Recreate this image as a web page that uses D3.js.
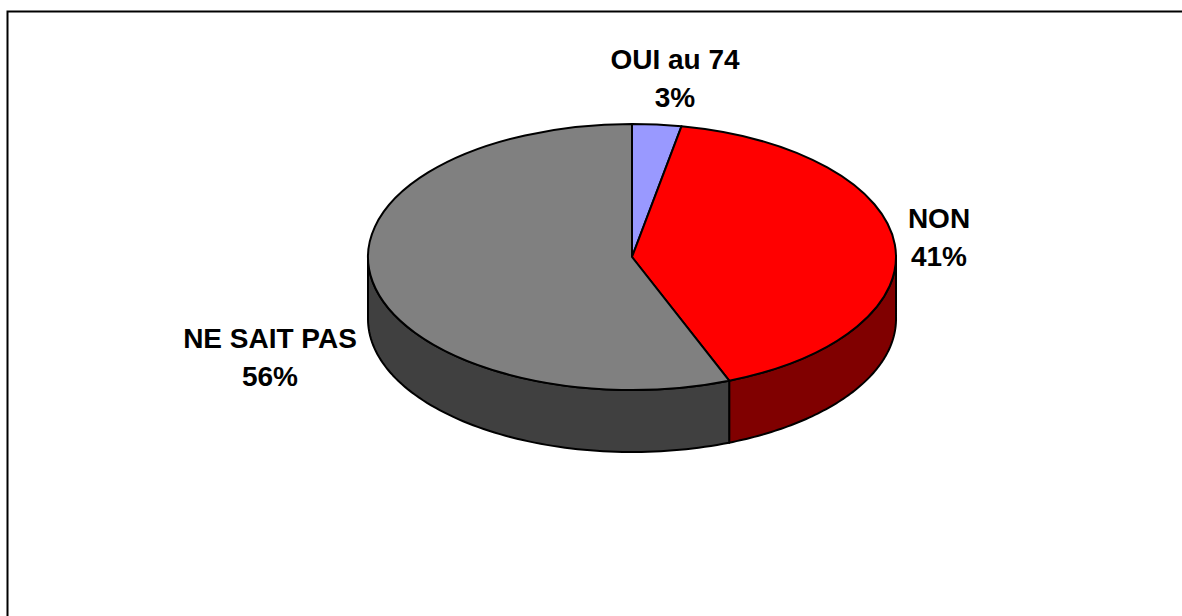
<!DOCTYPE html>
<html>
<head>
<meta charset="utf-8">
<script src="https://cdn.jsdelivr.net/npm/d3@7"></script>
<style>
  html, body { margin: 0; padding: 0; background: #fff; overflow: hidden; }
  svg { display: block; }
  text { font-family: "Liberation Sans", Arial, sans-serif; font-weight: bold; }
</style>
</head>
<body>
<svg id="chart" width="1182" height="616"></svg>
<script>
// ---- data ----
const categories = ["OUI au 74", "NON", "NE SAIT PAS"];
const values = [3, 41, 56];
const percentLabels = ["3%", "41%", "56%"];
const topColors = ["#9999FF", "#FF0000", "#808080"];
const sideColors = ["#4D4D80", "#800000", "#404040"];

// ---- layout ----
const W = 1182, H = 616;
const cx = 632, cy = 257, rx = 264, ry = 133, depth = 62;
const labelAnchors = [
  { x: 675, y: 69 },
  { x: 939, y: 228 },
  { x: 270, y: 348 }
];
const lineGap = 38;

const svg = d3.select("#chart");

// frame: only top and left edges are inside the window
svg.append("path")
  .attr("d", `M7.5,${H} V11.5 H${W}`)
  .attr("fill", "none").attr("stroke", "#000").attr("stroke-width", 2);

const pie = d3.pie().sort(null).value(d => d)
  .startAngle(0).endAngle(2 * Math.PI);
const arcs = pie(values);

// ellipse point for pie angle t (clockwise from top)
const px = t => cx + rx * Math.sin(t);
const py = (t, dz) => cy - ry * Math.cos(t) + dz;

// ---- sides (front half: t in [PI/2, 3PI/2]) ----
const sideG = svg.append("g");
arcs.forEach((a, i) => {
  const s = Math.max(a.startAngle, Math.PI / 2);
  const e = Math.min(a.endAngle, 3 * Math.PI / 2);
  if (e <= s) return;
  const n = 80;
  const ts = d3.range(n + 1).map(k => s + (e - s) * k / n);
  const pts = ts.map(t => [px(t), py(t, 0)])
    .concat(ts.slice().reverse().map(t => [px(t), py(t, depth)]));
  sideG.append("path")
    .attr("d", d3.line()(pts) + "Z")
    .attr("fill", sideColors[i])
    .attr("stroke", "#000")
    .attr("stroke-width", 2)
    .attr("stroke-linejoin", "round");
});

// ---- top surface (circular arcs squashed to ellipse) ----
const arcGen = d3.arc().innerRadius(0).outerRadius(rx);
const topG = svg.append("g")
  .attr("transform", `translate(${cx},${cy}) scale(1,${ry / rx})`);
topG.selectAll("path")
  .data(arcs)
  .join("path")
  .attr("d", arcGen)
  .attr("fill", (d, i) => topColors[i])
  .attr("stroke", "#000")
  .attr("stroke-width", 2)
  .attr("stroke-linejoin", "round")
  .attr("vector-effect", "non-scaling-stroke");

// ---- labels ----
const lab = svg.append("g");
arcs.forEach((a, i) => {
  const p = labelAnchors[i];
  lab.append("text")
    .attr("x", p.x).attr("y", p.y)
    .attr("text-anchor", "middle")
    .attr("font-size", 28)
    .attr("fill", "#000")
    .text(categories[i]);
  lab.append("text")
    .attr("x", p.x).attr("y", p.y + lineGap)
    .attr("text-anchor", "middle")
    .attr("font-size", 28)
    .attr("fill", "#000")
    .text(percentLabels[i]);
});
</script>
</body>
</html>
